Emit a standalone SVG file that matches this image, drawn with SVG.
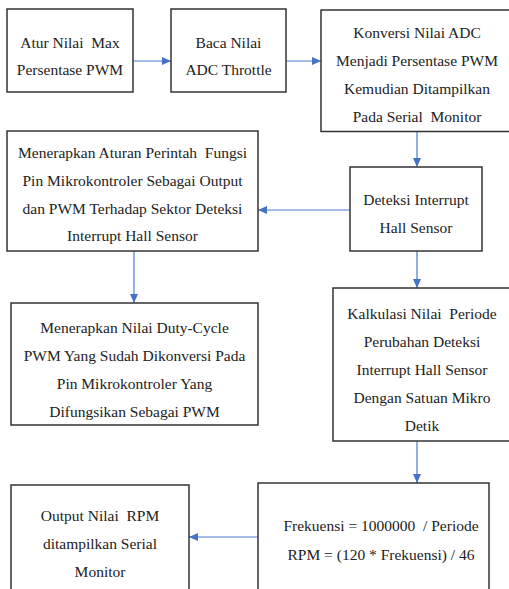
<svg xmlns="http://www.w3.org/2000/svg" width="509" height="589" viewBox="0 0 509 589">
<style>
.box{fill:#fff;stroke:#333;stroke-width:1.5}
text{font-family:'Liberation Serif','Times New Roman','DejaVu Serif',serif;font-size:15.5px;fill:#222;text-anchor:middle;white-space:pre}
.c{stroke:#4a7bd0;stroke-width:1.2;fill:none;marker-end:url(#ah)}
</style>
<defs>
<marker id="ah" markerUnits="userSpaceOnUse" markerWidth="10" markerHeight="8" refX="9" refY="4" orient="auto">
<path d="M0,0 L9,4 L0,8 Z" fill="#4472c4"/>
</marker>
</defs>
<rect width="509" height="589" fill="#fff"/>
<g id="connectors">
<line class="c" x1="133" y1="61" x2="171" y2="61"/>
<line class="c" x1="286" y1="61" x2="321" y2="61"/>
<line class="c" x1="417" y1="131" x2="417" y2="167"/>
<line class="c" x1="350" y1="210" x2="258" y2="210"/>
<line class="c" x1="134" y1="251" x2="134" y2="303"/>
<line class="c" x1="417" y1="251" x2="417" y2="288"/>
<line class="c" x1="417" y1="441" x2="417" y2="483"/>
<line class="c" x1="258" y1="537" x2="189" y2="537"/>
</g>
<g font-family="Liberation Serif, serif">
<g id="n1">
<rect class="box" x="7" y="9" width="126" height="83"/>
<text x="70" y="48">Atur Nilai  Max</text>
<text x="70" y="75">Persentase PWM</text>
</g>
<g id="n2">
<rect class="box" x="171" y="9" width="115" height="83"/>
<text x="228.5" y="48">Baca Nilai</text>
<text x="228.5" y="75">ADC Throttle</text>
</g>
<g id="n3">
<rect class="box" x="321" y="10" width="200" height="121.5"/>
<text x="417" y="38">Konversi Nilai ADC</text>
<text x="417" y="66">Menjadi Persentase PWM</text>
<text x="417" y="94">Kemudian Ditampilkan</text>
<text x="417" y="122">Pada Serial  Monitor</text>
</g>
<g id="n4">
<rect class="box" x="7" y="131" width="251" height="120"/>
<text x="132.5" y="158">Menerapkan Aturan Perintah  Fungsi</text>
<text x="132.5" y="186">Pin Mikrokontroler Sebagai Output</text>
<text x="132.5" y="213.5">dan PWM Terhadap Sektor Deteksi</text>
<text x="132.5" y="241">Interrupt Hall Sensor</text>
</g>
<g id="n5">
<rect class="box" x="350" y="167" width="132" height="84"/>
<text x="416" y="204.5">Deteksi Interrupt</text>
<text x="416" y="232.5">Hall Sensor</text>
</g>
<g id="n6">
<rect class="box" x="11" y="303" width="247" height="122"/>
<text x="134.5" y="333">Menerapkan Nilai Duty-Cycle</text>
<text x="134.5" y="361">PWM Yang Sudah Dikonversi Pada</text>
<text x="134.5" y="389">Pin Mikrokontroler Yang</text>
<text x="134.5" y="417">Difungsikan Sebagai PWM</text>
</g>
<g id="n7">
<rect class="box" x="333" y="288" width="190" height="153"/>
<text x="422" y="318.5">Kalkulasi Nilai  Periode</text>
<text x="422" y="346.5">Perubahan Deteksi</text>
<text x="422" y="374.5">Interrupt Hall Sensor</text>
<text x="422" y="402.5">Dengan Satuan Mikro</text>
<text x="422" y="430.5">Detik</text>
</g>
<g id="n8">
<rect class="box" x="258" y="483" width="231" height="120"/>
<text x="381" y="531">Frekuensi = 1000000  / Periode</text>
<text x="381" y="559.5">RPM = (120 * Frekuensi) / 46</text>
</g>
<g id="n9">
<rect class="box" x="11" y="485" width="178" height="120"/>
<text x="100" y="521">Output Nilai  RPM</text>
<text x="100" y="549">ditampilkan Serial</text>
<text x="100" y="577">Monitor</text>
</g>
</g>
</svg>
